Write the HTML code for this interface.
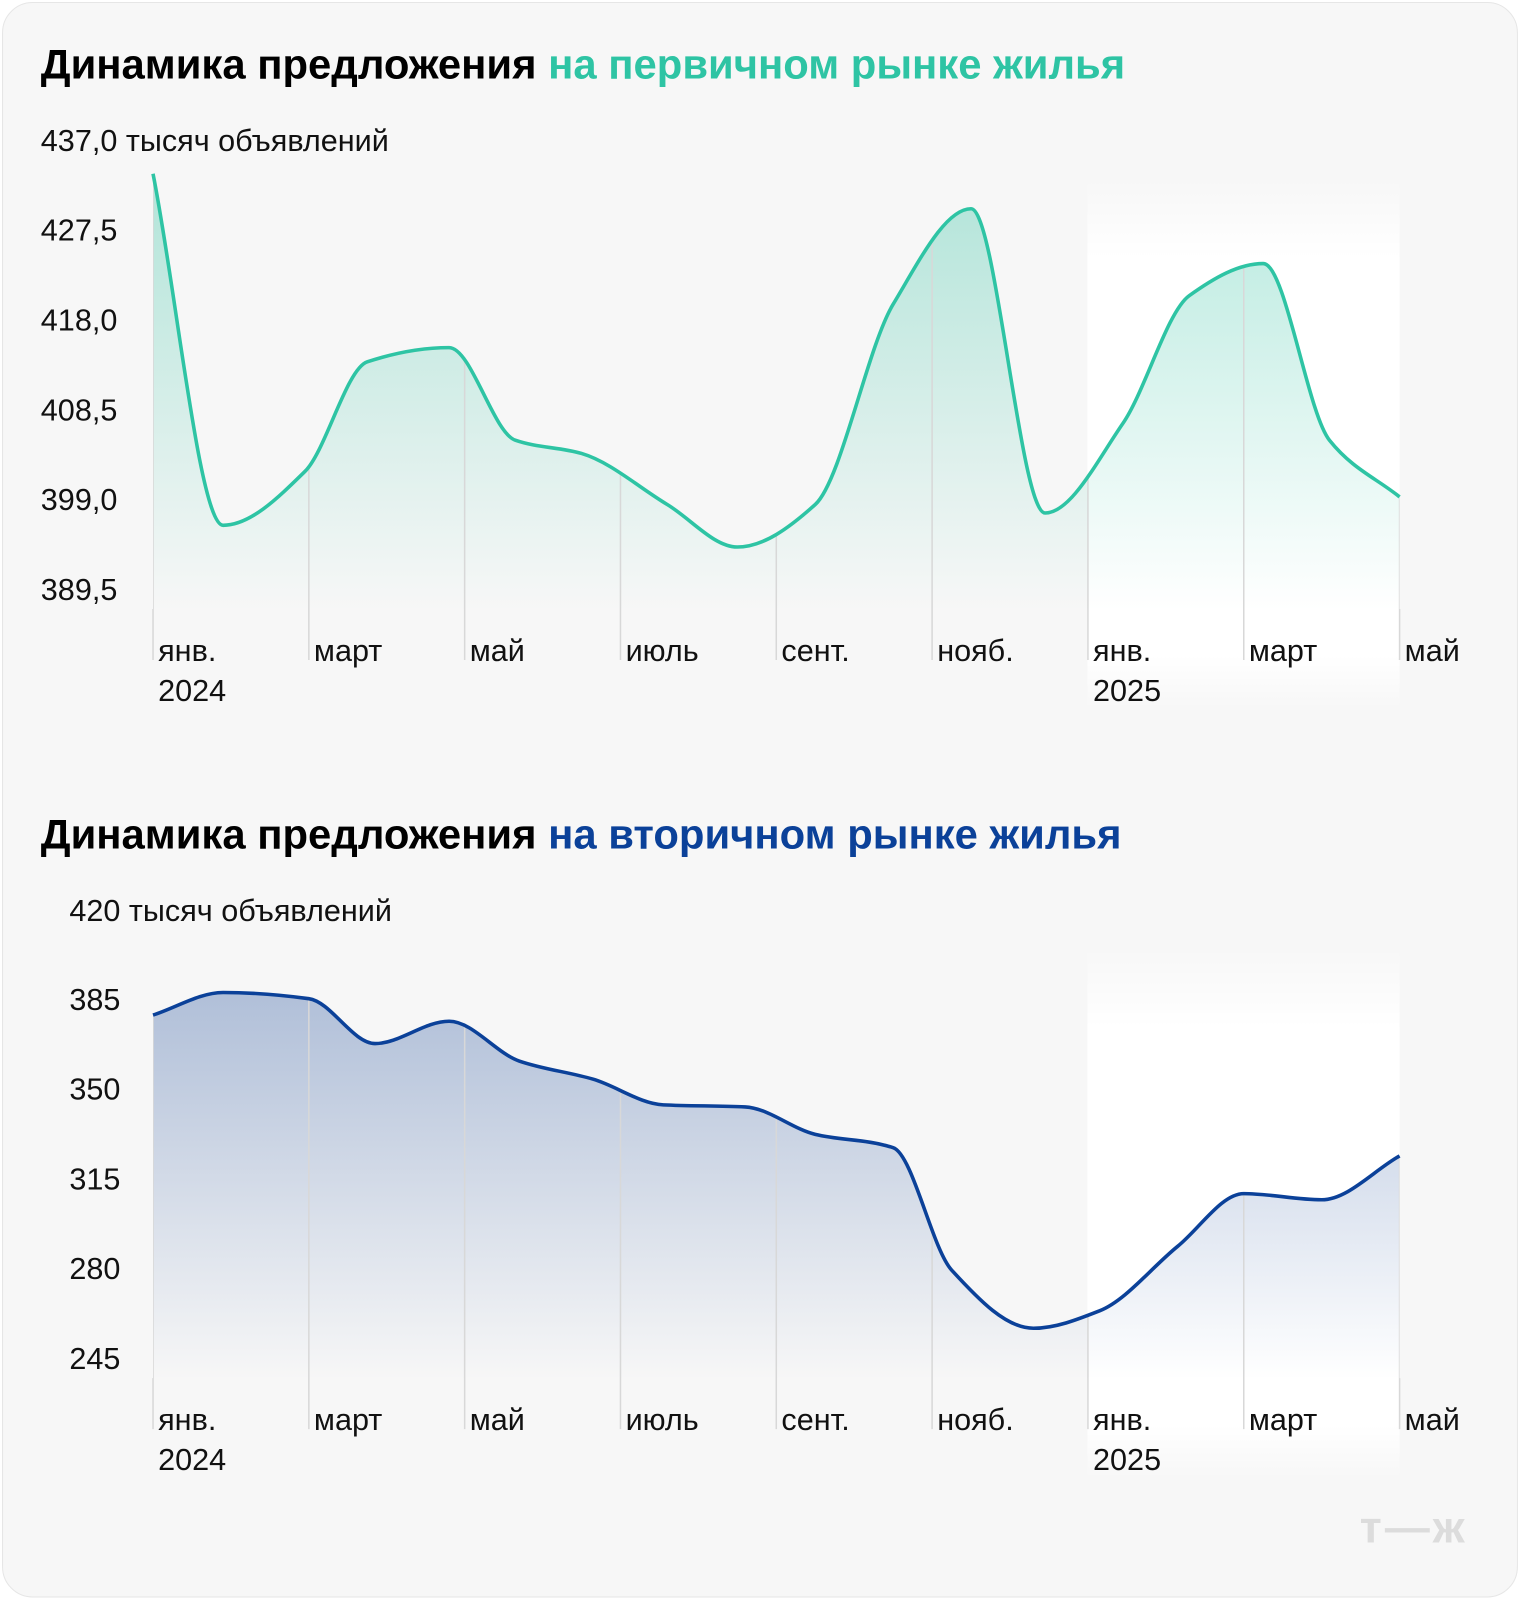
<!DOCTYPE html>
<html><head><meta charset="utf-8">
<style>
body{margin:0;width:1520px;height:1600px;background:#fff;font-family:"Liberation Sans",sans-serif;overflow:hidden;}
#wrap{position:absolute;left:0;top:0;width:1490px;height:1568px;transform:scale(1.0201);transform-origin:0 0;}
#card{position:absolute;left:2px;top:2px;width:1486px;height:1564px;background:#f7f7f7;border:1px solid #e6e6e6;border-radius:30px;box-sizing:border-box;}
svg{position:absolute;left:0;top:0;}
</style></head><body>
<div id="wrap">
<div id="card"></div>
<svg id="svg" width="1490" height="1568">
<defs>
<linearGradient id="g1" x1="0" y1="0" x2="0" y2="1"><stop offset="0" stop-color="#2fc1a0" stop-opacity="0.35"/><stop offset="1" stop-color="#2fc1a0" stop-opacity="0"/></linearGradient>
<linearGradient id="g2" x1="0" y1="0" x2="0" y2="1"><stop offset="0" stop-color="#0b3d91" stop-opacity="0.3"/><stop offset="1" stop-color="#0b3d91" stop-opacity="0"/></linearGradient>
<linearGradient id="gw" x1="0" y1="0" x2="0" y2="1"><stop offset="0" stop-color="#fff" stop-opacity="0"/><stop offset="0.15" stop-color="#fff" stop-opacity="1"/><stop offset="0.9" stop-color="#fff" stop-opacity="1"/><stop offset="1" stop-color="#fff" stop-opacity="0"/></linearGradient>
</defs>
</svg>
</div>
<script>
const monthLabels=["янв.","март","май","июль","сент.","нояб.","янв.","март","май"];
const yearLabels=["2024","","","","","","2025","",""];
const primaryMonths=[0,0.9,1.95,2.75,3.8,4.65,5.5,6.6,7.5,8.5,9.5,10.5,11.45,12.45,13.3,14.25,15.1,16];
const primaryValues=[433.4,396.2,401.9,413.5,415.0,405.2,403.8,398.4,393.9,398.4,419.6,429.7,397.5,407.0,420.5,423.9,405.2,399.2];
const primaryTicks=["427,5","418,0","408,5","399,0","389,5"];
const primaryTickValues=[427.5,418,408.5,399,389.5];
const secondaryMonths=[0,0.9,2,2.85,3.8,4.7,5.65,6.55,7.6,8.5,9.5,10.25,11.3,12.15,13.15,14,15,16];
const secondaryValues=[378.6,387.4,385,367.5,376.2,360.7,353.6,343.6,342.8,332.1,326.9,279.2,256.5,263.3,288.4,309,306.6,323.7];
const secondaryTicks=["385","350","315","280","245"];
const secondaryTickValues=[385,350,315,280,245];
const NS="http://www.w3.org/2000/svg";
const svg=document.getElementById('svg');
const defs=svg.querySelector('defs');
function mk(t,a,p){const e=document.createElementNS(NS,t);for(const k in a)e.setAttribute(k,a[k]);(p||svg).appendChild(e);return e;}
const xOf=m=>150+m*76.375;
function monotone(pts){
 const n=pts.length,dx=[],s=[],m=[];
 for(let i=0;i<n-1;i++){dx[i]=pts[i+1][0]-pts[i][0];s[i]=(pts[i+1][1]-pts[i][1])/dx[i];}
 m[0]=s[0];m[n-1]=s[n-2];
 for(let i=1;i<n-1;i++){if(s[i-1]*s[i]<=0)m[i]=0;else{const w1=2*dx[i]+dx[i-1],w2=dx[i]+2*dx[i-1];m[i]=(w1+w2)/(w1/s[i-1]+w2/s[i]);}}
 let d=`M${pts[0][0]},${pts[0][1]}`;
 for(let i=0;i<n-1;i++){const h=dx[i]/3;
  d+=`C${pts[i][0]+h},${pts[i][1]+m[i]*h} ${pts[i+1][0]-h},${pts[i+1][1]-m[i+1]*h} ${pts[i+1][0]},${pts[i+1][1]}`;}
 return d;}
function chart(o){
 const yOf=v=>o.y0+(o.v0-v)*88/o.step;
 const t=mk('text',{x:40,y:o.top,'font-size':41,'font-weight':'bold',fill:'#000'});
 
 t.textContent='Динамика предложения ';
 const ts=mk('tspan',{fill:o.color},t);ts.textContent=o.titleRest;
 const u=mk('text',{x:o.unitX,y:o.top+71,'font-size':30,fill:'#111'});
 u.textContent=o.unit;
 const wr=mk('rect',{x:1066,y:o.y0-50,width:306,height:520,fill:'url(#gw)'});
 
 o.ticks.forEach((lb,i)=>{const e=mk('text',{x:o.tickX,y:yOf(o.tickVals[i])+11,'font-size':30,fill:'#111'});
  e.textContent=lb;});
 const pts=o.months.map((m,i)=>[xOf(m),yOf(o.vals[i])]);
 const bottom=o.y0+88*4+22;
 const d=monotone(pts);
 const areaD=d+`L${pts[pts.length-1][0]},${bottom}L${pts[0][0]},${bottom}Z`;
 const cp=mk('clipPath',{id:'clip-'+o.name},defs);
 mk('path',{d:areaD},cp);
 mk('rect',{x:0,y:bottom-2,width:1490,height:100},cp);
 const a=mk('path',{d:areaD,fill:o.grad});
 
 monthLabels.forEach((lb,i)=>{const x=xOf(i*2);
  const g=mk('line',{x1:x,x2:x,y1:o.y0-80,y2:bottom+48,stroke:'#d8d8d8','stroke-width':1.5,'clip-path':'url(#clip-'+o.name+')'});
  
  const e=mk('text',{x:x+5,y:bottom+49,'font-size':30,fill:'#111'});
  e.textContent=lb;
  if(yearLabels[i]){const y=mk('text',{x:x+5,y:bottom+88,'font-size':30,fill:'#111'});
   y.textContent=yearLabels[i];}});
 const l=mk('path',{d:d,fill:'none',stroke:o.color,'stroke-width':3.5,'stroke-linejoin':'round'});
 
}
chart({name:'primary',top:77,titleRest:'на первичном рынке жилья',color:'#2ec4a4',unit:'437,0 тысяч объявлений',unitX:40,tickX:40,
 y0:225,v0:427.5,step:9.5,ticks:primaryTicks,tickVals:primaryTickValues,months:primaryMonths,vals:primaryValues,grad:'url(#g1)'});
chart({name:'secondary',top:832,titleRest:'на вторичном рынке жилья',color:'#0b4199',unit:'420 тысяч объявлений',unitX:68,tickX:68,
 y0:979,v0:385,step:35,ticks:secondaryTicks,tickVals:secondaryTickValues,months:secondaryMonths,vals:secondaryValues,grad:'url(#g2)'});
const lg=mk('text',{x:1333,y:1512,'font-size':44,'font-weight':'bold',fill:'#dcdcdc','letter-spacing':3});
lg.textContent='т—ж';
</script>
</body></html>
